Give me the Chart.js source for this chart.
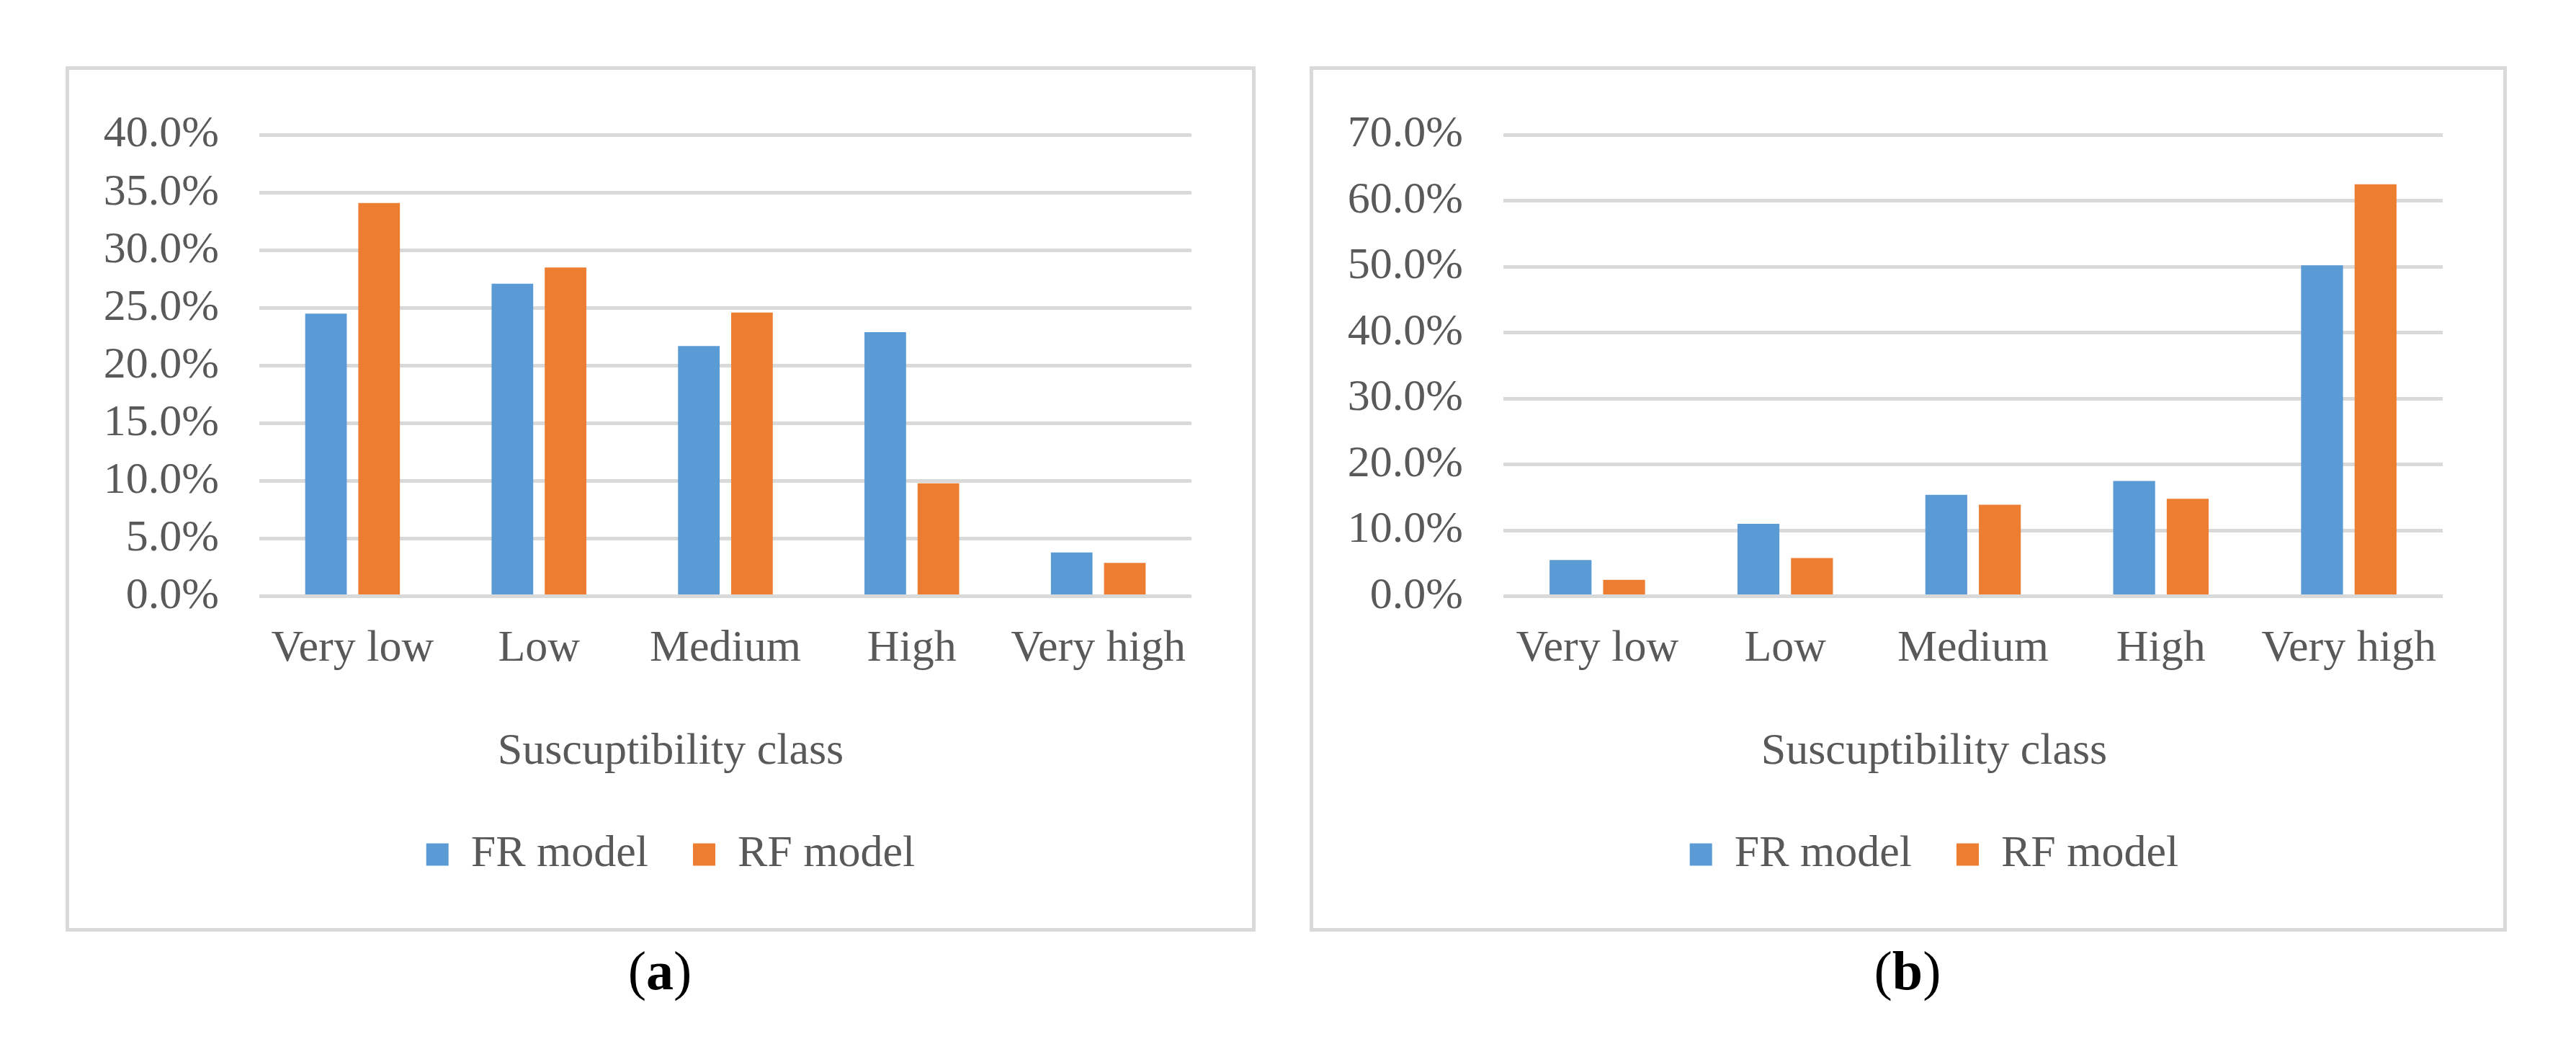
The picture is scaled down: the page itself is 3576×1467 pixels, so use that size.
<!DOCTYPE html>
<html>
<head>
<meta charset="utf-8">
<script src="https://cdn.jsdelivr.net/npm/chart.js@4.4.1/dist/chart.umd.min.js"></script>
<style>
  html, body { margin: 0; padding: 0; background: #fff; }
  body { width: 3576px; height: 1467px; position: relative; overflow: hidden; font-family: 'Liberation Serif', 'Times New Roman', serif; }
  .frame { position: absolute; box-sizing: border-box; border: 5px solid #d9d9d9; top: 92px; height: 1201px; }
  .plot { position: absolute; top: 94px; height: 1196px; }
  .caption { position: absolute; top: 1309px; width: 300px; margin-left: -150px; text-align: center; font-size: 76px; line-height: 76px; color: #000; }
  .caption b { font-weight: bold; }
</style>
</head>
<body>
  <div class="frame" style="left:91px;width:1652px"></div>
  <div class="frame" style="left:1818px;width:1662px"></div>
  <div class="plot" style="left:93px;width:1647px"><canvas id="chart-a"></canvas></div>
  <div class="plot" style="left:1820px;width:1697px"><canvas id="chart-b"></canvas></div>
  <div class="caption" style="left:916px">(<b>a</b>)</div>
  <div class="caption" style="left:2648px">(<b>b</b>)</div>
<script>
(() => {
  'use strict';
  // susceptibility classes, shared by both panels
  const CLASSES = ['Very low', 'Low', 'Medium', 'High', 'Very high'];
  const SERIES_NAMES = ['FR model', 'RF model'];
  const AXIS_TITLE = 'Suscuptibility class';

  // panel (a), percent of area
  const FR_A = [24.5, 27.1, 21.7, 22.9, 3.8];
  const RF_A = [34.1, 28.5, 24.6, 9.8, 2.9];
  const Y_MAX_A = 40, Y_STEP_A = 5;

  // panel (b), percent of landslides
  const FR_B = [5.5, 11.0, 15.4, 17.5, 50.2];
  const RF_B = [2.5, 5.8, 13.9, 14.8, 62.5];
  const Y_MAX_B = 70, Y_STEP_B = 10;

  const BLUE = '#5b9bd5', ORANGE = '#ed7d31', GRID = '#d9d9d9', INK = '#595959';
  const FONT = { family: "'Liberation Serif', 'Times New Roman', serif", size: 62, lineHeight: 1.2 };
  const PAD_LEFT = 40, PLOT_LEFT = 267; // plot edge inside each canvas

  const $ = id => document.getElementById(id);
  const pct = v => `${Number(v).toFixed(1)}%`;

  Chart.defaults.color = INK;
  Chart.defaults.font.family = FONT.family;
  Chart.defaults.animation = false;

  // spacer: empty right axis, so the bottom title/legend centre sits where the original has it
  function barChart(id, fr, rf, yMax, yStep, padRight, spacer) {
    return new Chart($(id), {
      type: 'bar',
      data: {
        labels: CLASSES,
        datasets: [
          { label: SERIES_NAMES[0], data: fr, backgroundColor: BLUE, borderWidth: 0 },
          { label: SERIES_NAMES[1], data: rf, backgroundColor: ORANGE, borderWidth: 0 }
        ]
      },
      options: {
        responsive: true, maintainAspectRatio: false, animation: false,
        events: [],
        datasets: { bar: { categoryPercentage: 0.57, barPercentage: 0.783 } },
        layout: { padding: { left: PAD_LEFT, right: padRight, top: 86, bottom: 63 } },
        plugins: {
          tooltip: { enabled: false },
          title: { display: true, text: AXIS_TITLE, position: 'bottom', weight: 500, color: INK,
            font: { ...FONT, weight: 'normal' }, padding: { top: 29, bottom: 12 } },
          legend: { display: true, position: 'bottom', weight: 1000,
            labels: { color: INK, font: FONT, boxWidth: 31, boxHeight: 31, padding: 62 } }
        },
        scales: {
          x: {
            grid: { display: false, drawTicks: false }, border: { display: false },
            ticks: { color: INK, font: FONT, padding: 36, maxRotation: 0, autoSkip: false },
            afterFit: s => { s.height = 150; }
          },
          y: {
            min: 0, max: yMax,
            grid: { color: GRID, lineWidth: 5, drawTicks: false }, border: { display: false },
            ticks: { stepSize: yStep, color: INK, font: FONT, padding: 56, callback: pct },
            afterFit: s => { s.width = PLOT_LEFT - PAD_LEFT; }
          },
          spacer: {
            type: 'linear', position: 'right', display: true,
            grid: { display: false, drawTicks: false }, border: { display: false },
            ticks: { display: false },
            afterFit: s => { s.width = spacer; }
          }
        }
      }
    });
  }

  barChart('chart-a', FR_A, RF_A, Y_MAX_A, Y_STEP_A, 11, 75);
  barChart('chart-b', FR_B, RF_B, Y_MAX_B, Y_STEP_B, 7, 119);
})();
</script>
</body>
</html>
